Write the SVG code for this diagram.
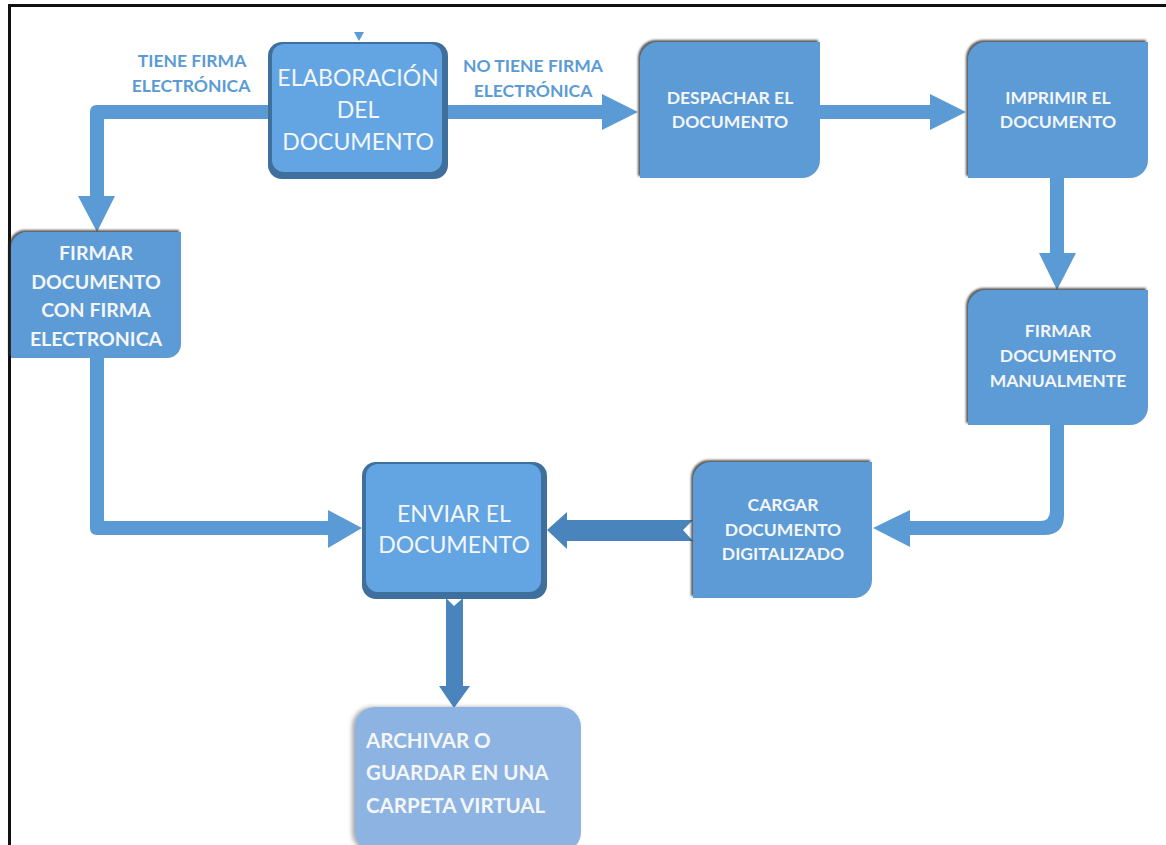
<svg xmlns="http://www.w3.org/2000/svg" width="1166" height="845" viewBox="0 0 1166 845">
<style>
.box{fill:#5b9bd5;}
.t{font-family:Lato,"Open Sans","Liberation Sans",sans-serif;fill:#f4f6f8;text-anchor:middle;}
.b{font-weight:bold;font-size:17.5px;}
.big{font-size:23px;}
.fe{font-weight:bold;font-size:19.5px;}
.ar{font-weight:bold;font-size:20.5px;text-anchor:start;}
.lbl{font-family:Lato,"Open Sans","Liberation Sans",sans-serif;font-weight:bold;font-size:17.5px;fill:#5b9bd5;text-anchor:middle;}
.con{fill:#5b9bd5;}
.dark{fill:#4a84bd;}
</style>
<defs>
<filter id="sh" x="-10%" y="-10%" width="120%" height="120%">
<feDropShadow dx="-2" dy="-2" stdDeviation="1" flood-color="#333" flood-opacity="0.8"/>
</filter>
<filter id="sh2" x="-10%" y="-10%" width="120%" height="120%">
<feDropShadow dx="-3" dy="0" stdDeviation="2" flood-color="#555" flood-opacity="0.5"/>
</filter>
</defs>
<rect width="1166" height="845" fill="#fff"/>
<path d="M9.5 845 V5.5 H1166" fill="none" stroke="#111" stroke-width="3"/>

<g id="connectors">
<path class="con" d="M268 105 H97 Q90 105 90 112 V196 H78 L97 232 L115 196 H104 V119 H268 Z"/>
<path class="con" d="M447 105 H602 V94 L638 112 L602 130 V119 H447 Z"/>
<path class="con" d="M820 105 H930 V94 L966 112 L930 130 V119 H820 Z"/>
<path class="con" d="M1050 178 V253 H1039 L1057 290 L1076 253 H1064 V178 Z"/>
<path class="con" d="M1050 425 V511 Q1050 521 1040 521 H910 V510 L873 528 L910 547 V535 H1044 Q1064 535 1064 515 V425 Z"/>
<path class="con" d="M90 358 V528 Q90 535 97 535 H328 V548 L362 528 L328 510 V521 H104 V358 Z"/>
<path class="dark" d="M693 520 L683 530 L693 541 H567 V549 L547 530 L567 512 V520 Z"/>
<path class="dark" d="M446 598 L454 606 L463 598 V686 H470 L454 708 L439 686 H446 Z"/>
<path class="con" d="M354 32 H364 L359 41 Z"/>
</g>

<g id="lbl-tiene">
<text class="lbl" x="192" y="67">TIENE FIRMA</text>
<text class="lbl" x="191" y="92">ELECTRÓNICA</text>
</g>
<g id="lbl-notiene">
<text class="lbl" x="533" y="72">NO TIENE FIRMA</text>
<text class="lbl" x="533" y="97">ELECTRÓNICA</text>
</g>

<g id="elaboracion">
<rect x="268" y="42" width="180" height="137" rx="14" fill="#3f6f9c"/>
<rect x="272" y="44" width="170" height="128" rx="12" fill="#62a5e2"/>
<text class="t big" x="358" y="86">ELABORACIÓN</text>
<text class="t big" x="358" y="118">DEL</text>
<text class="t big" x="358" y="150">DOCUMENTO</text>
</g>

<g id="despachar">
<path class="box" filter="url(#sh)" d="M640 60 A18 18 0 0 1 658 42 H820 V160 A18 18 0 0 1 802 178 H640 Z"/>
<text class="t b" x="730" y="104">DESPACHAR EL</text>
<text class="t b" x="730" y="128">DOCUMENTO</text>
</g>

<g id="imprimir">
<path class="box" filter="url(#sh)" d="M968 60 A18 18 0 0 1 986 42 H1148 V160 A18 18 0 0 1 1130 178 H968 Z"/>
<text class="t b" x="1058" y="104">IMPRIMIR EL</text>
<text class="t b" x="1058" y="128">DOCUMENTO</text>
</g>

<g id="firmar-manual">
<path class="box" filter="url(#sh)" d="M968 308 A18 18 0 0 1 986 290 H1148 V407 A18 18 0 0 1 1130 425 H968 Z"/>
<text class="t b" x="1058" y="337">FIRMAR</text>
<text class="t b" x="1058" y="362">DOCUMENTO</text>
<text class="t b" x="1058" y="387">MANUALMENTE</text>
</g>

<g id="cargar">
<path class="box" filter="url(#sh)" d="M693 480 A18 18 0 0 1 711 462 H872 V580 A18 18 0 0 1 854 598 H693 Z"/>
<text class="t b" x="783" y="511">CARGAR</text>
<text class="t b" x="783" y="536">DOCUMENTO</text>
<text class="t b" x="783" y="560">DIGITALIZADO</text>
</g>

<g id="firmar-electronica">
<path class="box" filter="url(#sh)" d="M11 248 A16 16 0 0 1 27 232 H181 V344 A14 14 0 0 1 167 358 H11 Z"/>
<text class="t fe" x="96" y="260">FIRMAR</text>
<text class="t fe" x="96" y="289">DOCUMENTO</text>
<text class="t fe" x="96" y="317">CON FIRMA</text>
<text class="t fe" x="96" y="346">ELECTRONICA</text>
</g>

<g id="enviar">
<rect x="362" y="462" width="185" height="137" rx="14" fill="#3f6f9c"/>
<rect x="366" y="464" width="175" height="128" rx="12" fill="#62a5e2"/>
<text class="t big" x="454" y="522">ENVIAR EL</text>
<text class="t big" x="454" y="553">DOCUMENTO</text>
</g>

<g id="archivar">
<rect x="355" y="707" width="226" height="145" rx="20" fill="#8db3e2" filter="url(#sh2)"/>
<text class="t ar" x="366" y="748">ARCHIVAR O</text>
<text class="t ar" x="366" y="780">GUARDAR EN UNA</text>
<text class="t ar" x="366" y="813">CARPETA VIRTUAL</text>
</g>
</svg>
